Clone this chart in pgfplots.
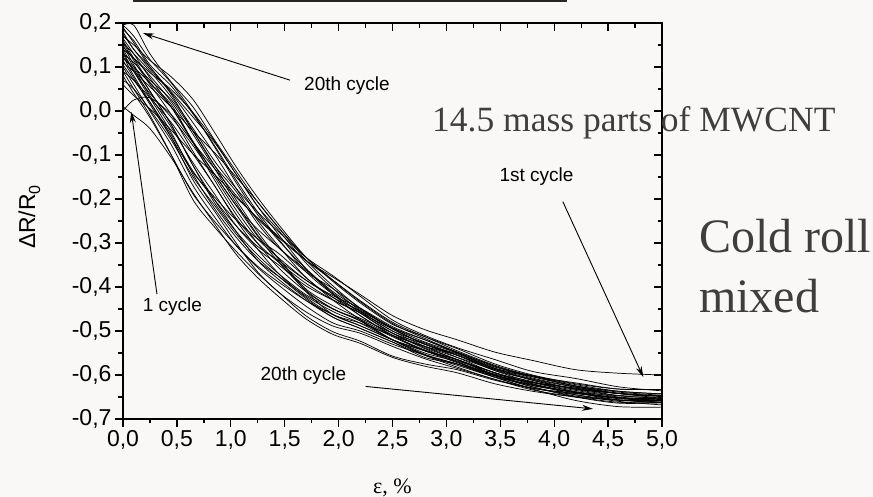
\documentclass[border=0pt]{standalone}
\usepackage{fontspec}
\setmainfont{Liberation Sans}
\newfontfamily\timesf{Liberation Serif}
\usepackage{pgfplots}
\pgfplotsset{compat=1.18}
\usetikzlibrary{arrows.meta}
\definecolor{bg}{RGB}{250,248,247}
\definecolor{txtgray}{RGB}{62,62,62}
\tikzset{arr/.style={black, line width=0.9pt, -{Stealth[length=11pt,width=6pt]}}}
\pgfplotsset{
  base/.style={at={(123pt,78pt)}, anchor=south west, scale only axis,
    width=539pt, height=396pt, xmin=0, xmax=5, ymin=-0.7, ymax=0.2,
    xtick={0,0.5,1,1.5,2,2.5,3,3.5,4,4.5,5},
    ytick={-0.7,-0.6,-0.5,-0.4,-0.3,-0.2,-0.1,0,0.1,0.2},
    minor x tick num=1, minor y tick num=1,
    major tick length=8pt, minor tick length=4.5pt,
    axis line style={line width=1.6pt},
    every tick/.style={black, line width=1.3pt}},
  curve/.style={black, line width=0.72pt, smooth, tension=0.5, mark=none}
}
\begin{document}
\begin{tikzpicture}
\fill[bg] (0,0) rectangle (873pt,497pt);
\useasboundingbox (0,0) rectangle (873pt,497pt);
\fill[black!85] (133pt,495pt) rectangle (567pt,497pt);
\begin{axis}[base, xtick pos=lower, ytick pos=left, tick align=outside,
  tick label style={font=\fontsize{23}{23}\selectfont},
  /pgf/number format/fixed, /pgf/number format/fixed zerofill,
  /pgf/number format/precision=1, /pgf/number format/use comma,
  /pgf/number format/assume math mode=true,
  ylabel={ΔR/R\raisebox{-5pt}{\fontsize{16}{16}\selectfont 0}},
  ylabel style={at={(axis description cs:-0.1735,0.51)}, anchor=center, font=\fontsize{23}{23}\selectfont},
  xlabel={\timesf ε, \%},
  xlabel style={at={(axis description cs:0.5,-0.174)}, anchor=center, font=\fontsize{22}{22}\selectfont}]
\addplot[curve] coordinates {(0,0.195)(0.1,0.195)(0.25,0.130)(0.45,0.065)(0.65,0.009)(0.85,-0.066)(1.05,-0.137)(1.25,-0.207)(1.45,-0.267)(1.7,-0.333)(1.95,-0.385)(2.2,-0.433)(2.5,-0.483)(2.8,-0.517)(3.1,-0.548)(3.45,-0.580)(3.8,-0.604)(4.2,-0.625)(4.6,-0.639)(5.0,-0.646)};
\addplot[curve] coordinates {(0,0.010)(0.1,-0.010)(0.25,-0.040)(0.45,-0.107)(0.65,-0.186)(0.85,-0.257)(1.05,-0.326)(1.25,-0.379)(1.45,-0.423)(1.7,-0.473)(1.95,-0.508)(2.2,-0.528)(2.5,-0.560)(2.8,-0.580)(3.1,-0.595)(3.45,-0.620)(3.8,-0.637)(4.2,-0.650)(4.6,-0.657)(5.0,-0.660)};
\addplot[curve] coordinates {(0,0.000)(0.1,0.025)(0.25,0.030)(0.45,-0.009)(0.65,-0.072)(0.85,-0.131)(1.05,-0.192)(1.25,-0.246)(1.45,-0.289)(1.7,-0.340)(1.95,-0.378)(2.2,-0.417)(2.5,-0.465)(2.8,-0.497)(3.1,-0.520)(3.45,-0.548)(3.8,-0.567)(4.2,-0.588)(4.6,-0.596)(5.0,-0.600)};
\addplot[curve] coordinates {(0,0.180)(0.1,0.140)(0.25,0.100)(0.45,0.037)(0.65,-0.046)(0.85,-0.124)(1.05,-0.183)(1.25,-0.256)(1.45,-0.312)(1.7,-0.362)(1.95,-0.414)(2.2,-0.459)(2.5,-0.505)(2.8,-0.530)(3.1,-0.560)(3.45,-0.595)(3.8,-0.615)(4.2,-0.638)(4.6,-0.647)(5.0,-0.648)};
\addplot[curve] coordinates {(0,0.160)(0.1,0.120)(0.25,0.065)(0.45,0.014)(0.65,-0.072)(0.85,-0.157)(1.05,-0.235)(1.25,-0.301)(1.45,-0.358)(1.7,-0.411)(1.95,-0.450)(2.2,-0.477)(2.5,-0.520)(2.8,-0.545)(3.1,-0.565)(3.45,-0.600)(3.8,-0.617)(4.2,-0.630)(4.6,-0.647)(5.0,-0.653)};
\addplot[curve] coordinates {(0,0.140)(0.1,0.100)(0.25,0.045)(0.45,-0.032)(0.65,-0.124)(0.85,-0.202)(1.05,-0.274)(1.25,-0.340)(1.45,-0.384)(1.7,-0.431)(1.95,-0.469)(2.2,-0.494)(2.5,-0.525)(2.8,-0.560)(3.1,-0.575)(3.45,-0.600)(3.8,-0.624)(4.2,-0.640)(4.6,-0.657)(5.0,-0.658)};
\addplot[curve] coordinates {(0,0.120)(0.1,0.095)(0.25,0.035)(0.45,-0.038)(0.65,-0.118)(0.85,-0.189)(1.05,-0.261)(1.25,-0.314)(1.45,-0.351)(1.7,-0.398)(1.95,-0.430)(2.2,-0.459)(2.5,-0.495)(2.8,-0.530)(3.1,-0.552)(3.45,-0.585)(3.8,-0.602)(4.2,-0.625)(4.6,-0.637)(5.0,-0.643)};
\addplot[curve] coordinates {(0,0.100)(0.1,0.060)(0.25,0.000)(0.45,-0.078)(0.65,-0.170)(0.85,-0.241)(1.05,-0.306)(1.25,-0.356)(1.45,-0.397)(1.7,-0.444)(1.95,-0.482)(2.2,-0.500)(2.5,-0.530)(2.8,-0.555)(3.1,-0.578)(3.45,-0.605)(3.8,-0.630)(4.2,-0.642)(4.6,-0.652)(5.0,-0.658)};
\addplot[curve] coordinates {(0,0.170)(0.1,0.150)(0.25,0.115)(0.45,0.077)(0.65,0.026)(0.85,-0.049)(1.05,-0.127)(1.25,-0.197)(1.45,-0.260)(1.7,-0.333)(1.95,-0.388)(2.2,-0.436)(2.5,-0.485)(2.8,-0.513)(3.1,-0.545)(3.45,-0.578)(3.8,-0.602)(4.2,-0.618)(4.6,-0.632)(5.0,-0.633)};
\addplot[curve] coordinates {(0,0.190)(0.1,0.155)(0.25,0.100)(0.45,0.043)(0.65,-0.014)(0.85,-0.072)(1.05,-0.144)(1.25,-0.217)(1.45,-0.273)(1.7,-0.346)(1.95,-0.404)(2.2,-0.454)(2.5,-0.500)(2.8,-0.527)(3.1,-0.555)(3.45,-0.590)(3.8,-0.610)(4.2,-0.632)(4.6,-0.642)(5.0,-0.648)};
\addplot[curve] coordinates {(0,0.080)(0.1,0.040)(0.25,-0.015)(0.45,-0.101)(0.65,-0.189)(0.85,-0.251)(1.05,-0.306)(1.25,-0.353)(1.45,-0.390)(1.7,-0.431)(1.95,-0.463)(2.2,-0.488)(2.5,-0.520)(2.8,-0.550)(3.1,-0.570)(3.45,-0.602)(3.8,-0.627)(4.2,-0.648)(4.6,-0.657)(5.0,-0.663)};
\addplot[curve] coordinates {(0,0.130)(0.1,0.110)(0.25,0.070)(0.45,0.025)(0.65,-0.046)(0.85,-0.124)(1.05,-0.202)(1.25,-0.275)(1.45,-0.338)(1.7,-0.411)(1.95,-0.463)(2.2,-0.488)(2.5,-0.520)(2.8,-0.545)(3.1,-0.572)(3.45,-0.598)(3.8,-0.617)(4.2,-0.630)(4.6,-0.642)(5.0,-0.648)};
\addplot[curve] coordinates {(0,0.150)(0.1,0.105)(0.25,0.045)(0.45,-0.032)(0.65,-0.124)(0.85,-0.209)(1.05,-0.274)(1.25,-0.327)(1.45,-0.371)(1.7,-0.418)(1.95,-0.450)(2.2,-0.477)(2.5,-0.513)(2.8,-0.545)(3.1,-0.565)(3.45,-0.600)(3.8,-0.627)(4.2,-0.650)(4.6,-0.664)(5.0,-0.663)};
\addplot[curve] coordinates {(0,0.060)(0.1,0.035)(0.25,0.005)(0.45,-0.044)(0.65,-0.098)(0.85,-0.144)(1.05,-0.196)(1.25,-0.243)(1.45,-0.286)(1.7,-0.340)(1.95,-0.385)(2.2,-0.431)(2.5,-0.480)(2.8,-0.513)(3.1,-0.540)(3.45,-0.575)(3.8,-0.600)(4.2,-0.620)(4.6,-0.632)(5.0,-0.633)};
\addplot[curve] coordinates {(0,0.185)(0.1,0.160)(0.25,0.105)(0.45,0.056)(0.65,-0.007)(0.85,-0.079)(1.05,-0.157)(1.25,-0.230)(1.45,-0.293)(1.7,-0.366)(1.95,-0.417)(2.2,-0.456)(2.5,-0.500)(2.8,-0.535)(3.1,-0.565)(3.45,-0.595)(3.8,-0.622)(4.2,-0.640)(4.6,-0.654)(5.0,-0.658)};
\addplot[curve] coordinates {(0,0.125)(0.1,0.080)(0.25,0.020)(0.45,-0.061)(0.65,-0.157)(0.85,-0.228)(1.05,-0.300)(1.25,-0.366)(1.45,-0.413)(1.7,-0.457)(1.95,-0.489)(2.2,-0.505)(2.5,-0.535)(2.8,-0.563)(3.1,-0.585)(3.45,-0.610)(3.8,-0.634)(4.2,-0.650)(4.6,-0.662)(5.0,-0.663)};
\addplot[curve] coordinates {(0,0.110)(0.1,0.090)(0.25,0.055)(0.45,0.008)(0.65,-0.046)(0.85,-0.095)(1.05,-0.150)(1.25,-0.207)(1.45,-0.267)(1.7,-0.340)(1.95,-0.398)(2.2,-0.448)(2.5,-0.493)(2.8,-0.520)(3.1,-0.550)(3.45,-0.582)(3.8,-0.602)(4.2,-0.622)(4.6,-0.637)(5.0,-0.643)};
\addplot[curve] coordinates {(0,0.145)(0.1,0.120)(0.25,0.080)(0.45,0.020)(0.65,-0.053)(0.85,-0.131)(1.05,-0.209)(1.25,-0.282)(1.45,-0.338)(1.7,-0.405)(1.95,-0.443)(2.2,-0.471)(2.5,-0.505)(2.8,-0.538)(3.1,-0.565)(3.45,-0.600)(3.8,-0.624)(4.2,-0.640)(4.6,-0.657)(5.0,-0.658)};
\addplot[curve] coordinates {(0,0.165)(0.1,0.130)(0.25,0.075)(0.45,0.008)(0.65,-0.072)(0.85,-0.144)(1.05,-0.215)(1.25,-0.269)(1.45,-0.312)(1.7,-0.366)(1.95,-0.404)(2.2,-0.448)(2.5,-0.495)(2.8,-0.530)(3.1,-0.555)(3.45,-0.590)(3.8,-0.617)(4.2,-0.638)(4.6,-0.652)(5.0,-0.653)};
\addplot[curve] coordinates {(0,0.090)(0.1,0.070)(0.25,0.030)(0.45,-0.027)(0.65,-0.098)(0.85,-0.170)(1.05,-0.248)(1.25,-0.314)(1.45,-0.371)(1.7,-0.424)(1.95,-0.463)(2.2,-0.482)(2.5,-0.510)(2.8,-0.535)(3.1,-0.560)(3.45,-0.588)(3.8,-0.612)(4.2,-0.632)(4.6,-0.642)(5.0,-0.653)};
\addplot[curve] coordinates {(0,0.135)(0.1,0.090)(0.25,0.030)(0.45,-0.050)(0.65,-0.144)(0.85,-0.222)(1.05,-0.287)(1.25,-0.340)(1.45,-0.377)(1.7,-0.421)(1.95,-0.456)(2.2,-0.482)(2.5,-0.520)(2.8,-0.555)(3.1,-0.582)(3.45,-0.610)(3.8,-0.630)(4.2,-0.645)(4.6,-0.657)(5.0,-0.663)};
\addplot[curve] coordinates {(0,0.175)(0.1,0.140)(0.25,0.095)(0.45,0.040)(0.65,-0.027)(0.85,-0.098)(1.05,-0.176)(1.25,-0.249)(1.45,-0.309)(1.7,-0.379)(1.95,-0.424)(2.2,-0.454)(2.5,-0.493)(2.8,-0.525)(3.1,-0.550)(3.45,-0.585)(3.8,-0.612)(4.2,-0.633)(4.6,-0.647)(5.0,-0.653)};
\addplot[curve] coordinates {(0,0.105)(0.1,0.070)(0.25,0.020)(0.45,-0.055)(0.65,-0.137)(0.85,-0.202)(1.05,-0.261)(1.25,-0.308)(1.45,-0.341)(1.7,-0.385)(1.95,-0.420)(2.2,-0.448)(2.5,-0.490)(2.8,-0.520)(3.1,-0.548)(3.45,-0.580)(3.8,-0.607)(4.2,-0.627)(4.6,-0.642)(5.0,-0.648)};
\addplot[curve] coordinates {(0,0.155)(0.1,0.115)(0.25,0.060)(0.45,-0.009)(0.65,-0.092)(0.85,-0.170)(1.05,-0.244)(1.25,-0.301)(1.45,-0.345)(1.7,-0.392)(1.95,-0.430)(2.2,-0.459)(2.5,-0.505)(2.8,-0.540)(3.1,-0.570)(3.45,-0.605)(3.8,-0.632)(4.2,-0.658)(4.6,-0.672)(5.0,-0.673)};
\addplot[curve] coordinates {(0,0.120)(0.1,0.100)(0.25,0.063)(0.45,0.008)(0.65,-0.069)(0.85,-0.144)(1.05,-0.215)(1.25,-0.285)(1.45,-0.345)(1.7,-0.408)(1.95,-0.450)(2.2,-0.474)(2.5,-0.510)(2.8,-0.535)(3.1,-0.555)(3.45,-0.587)(3.8,-0.604)(4.2,-0.625)(4.6,-0.642)(5.0,-0.648)};
\addplot[curve] coordinates {(0,0.070)(0.1,0.050)(0.25,0.003)(0.45,-0.067)(0.65,-0.150)(0.85,-0.215)(1.05,-0.280)(1.25,-0.334)(1.45,-0.377)(1.7,-0.427)(1.95,-0.469)(2.2,-0.494)(2.5,-0.525)(2.8,-0.555)(3.1,-0.575)(3.45,-0.605)(3.8,-0.622)(4.2,-0.640)(4.6,-0.652)(5.0,-0.658)};
\addplot[curve] coordinates {(0,0.195)(0.1,0.170)(0.25,0.117)(0.45,0.063)(0.65,-0.004)(0.85,-0.082)(1.05,-0.163)(1.25,-0.236)(1.45,-0.296)(1.7,-0.359)(1.95,-0.411)(2.2,-0.451)(2.5,-0.495)(2.8,-0.530)(3.1,-0.555)(3.45,-0.585)(3.8,-0.609)(4.2,-0.628)(4.6,-0.642)(5.0,-0.648)};
\addplot[curve] coordinates {(0,0.140)(0.1,0.120)(0.25,0.087)(0.45,0.048)(0.65,-0.004)(0.85,-0.069)(1.05,-0.144)(1.25,-0.217)(1.45,-0.283)(1.7,-0.359)(1.95,-0.417)(2.2,-0.465)(2.5,-0.510)(2.8,-0.543)(3.1,-0.565)(3.45,-0.595)(3.8,-0.620)(4.2,-0.640)(4.6,-0.652)(5.0,-0.663)};
\addplot[curve] coordinates {(0,0.090)(0.1,0.050)(0.25,-0.010)(0.45,-0.101)(0.65,-0.202)(0.85,-0.264)(1.05,-0.319)(1.25,-0.369)(1.45,-0.413)(1.7,-0.466)(1.95,-0.502)(2.2,-0.523)(2.5,-0.557)(2.8,-0.575)(3.1,-0.588)(3.45,-0.612)(3.8,-0.630)(4.2,-0.642)(4.6,-0.652)(5.0,-0.658)};
\addplot[curve] coordinates {(0,0.155)(0.1,0.130)(0.25,0.090)(0.45,0.031)(0.65,-0.040)(0.85,-0.114)(1.05,-0.176)(1.25,-0.230)(1.45,-0.276)(1.7,-0.333)(1.95,-0.375)(2.2,-0.421)(2.5,-0.475)(2.8,-0.510)(3.1,-0.538)(3.45,-0.565)(3.8,-0.592)(4.2,-0.608)(4.6,-0.627)(5.0,-0.636)};
\addplot[curve] coordinates {(0,0.130)(0.1,0.090)(0.25,0.040)(0.45,-0.015)(0.65,-0.079)(0.85,-0.150)(1.05,-0.225)(1.25,-0.291)(1.45,-0.335)(1.7,-0.385)(1.95,-0.424)(2.2,-0.465)(2.5,-0.510)(2.8,-0.545)(3.1,-0.568)(3.45,-0.595)(3.8,-0.620)(4.2,-0.645)(4.6,-0.660)(5.0,-0.668)};
\addplot[curve] coordinates {(0,0.115)(0.1,0.075)(0.25,0.015)(0.45,-0.061)(0.65,-0.140)(0.85,-0.196)(1.05,-0.248)(1.25,-0.291)(1.45,-0.325)(1.7,-0.379)(1.95,-0.430)(2.2,-0.474)(2.5,-0.520)(2.8,-0.553)(3.1,-0.575)(3.45,-0.602)(3.8,-0.617)(4.2,-0.635)(4.6,-0.650)(5.0,-0.656)};
\draw[arr] (axis cs:1.55,0.070) -- (axis cs:0.186,0.177);
\node[font=\fontsize{19}{19}\selectfont] at (axis cs:2.078,0.057) {20th cycle};
\draw[arr] (axis cs:0.315,-0.416) -- (axis cs:0.077,-0.002);
\node[font=\fontsize{19}{19}\selectfont] at (axis cs:0.459,-0.445) {1 cycle};
\node[font=\fontsize{19}{19}\selectfont] at (axis cs:3.836,-0.15) {1st cycle};
\draw[arr] (axis cs:4.08,-0.206) -- (axis cs:4.827,-0.605);
\node[font=\fontsize{19}{19}\selectfont] at (axis cs:1.674,-0.601) {20th cycle};
\draw[arr] (axis cs:2.251,-0.626) -- (axis cs:4.36,-0.677);
\end{axis}
\begin{axis}[base, xtick pos=upper, ytick pos=right, tick align=inside,
  xticklabels={}, yticklabels={}]
\end{axis}
\node[anchor=base west, text=txtgray, inner sep=0pt, font=\timesf\fontsize{35.5}{36}\selectfont] at (432pt,365pt) {14.5 mass parts of MWCNT};
\node[anchor=base west, text=txtgray, inner sep=0pt, font=\timesf\fontsize{48}{50}\selectfont] at (699pt,244pt) {Cold roll};
\node[anchor=base west, text=txtgray, inner sep=0pt, font=\timesf\fontsize{48}{50}\selectfont] at (699pt,184pt) {mixed};
\end{tikzpicture}
\end{document}
